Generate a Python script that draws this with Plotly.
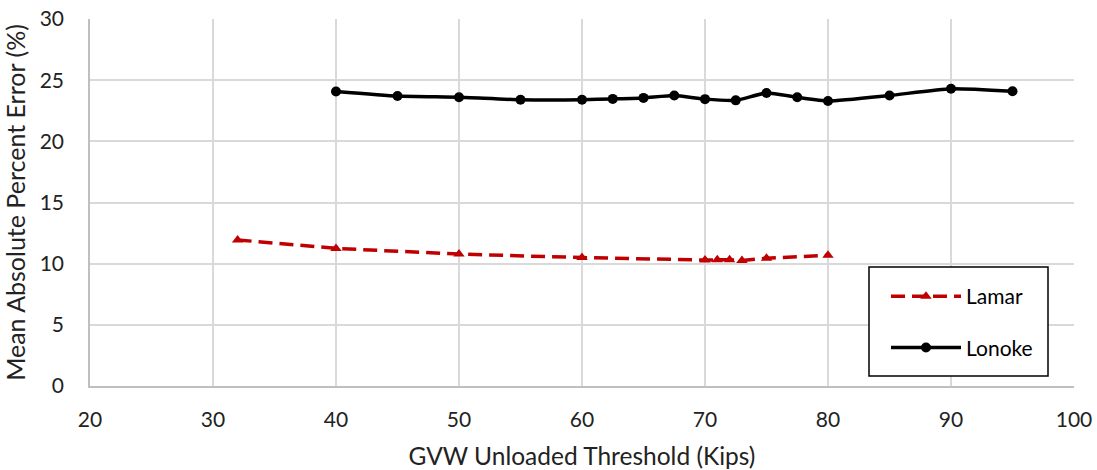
import plotly.graph_objects as go

lonoke_x = [40, 45, 50, 55, 60, 62.5, 65, 67.5, 70, 72.5, 75, 77.5, 80, 85, 90, 95]
lonoke_y = [24.08, 23.7, 23.6, 23.4, 23.4, 23.47, 23.55, 23.75, 23.45, 23.35, 23.95, 23.6, 23.3, 23.75, 24.3, 24.1]

lamar_x = [32, 40, 50, 60, 70, 71, 72, 73, 75, 80]
lamar_y = [11.94, 11.25, 10.78, 10.5, 10.3, 10.32, 10.33, 10.25, 10.45, 10.68]

x_ticks = [20, 30, 40, 50, 60, 70, 80, 90, 100]
y_ticks = [0, 5, 10, 15, 20, 25, 30]

FONT = "Lato"
TXT = "#222"

fig = go.Figure()
fig.add_trace(go.Scatter(
    x=lamar_x, y=lamar_y, name="Lamar", mode="lines+markers", legendgroup="a",
    line=dict(color="#C00000", width=3.5, dash="14px,7px"),
    marker=dict(symbol="triangle-up", size=10, color="#C00000"),
))
fig.add_trace(go.Scatter(
    x=lonoke_x, y=lonoke_y, name="Lonoke", mode="lines+markers", legendgroup="b",
    line=dict(color="black", width=3.5, shape="spline", smoothing=0.5),
    marker=dict(symbol="circle", size=10, color="black"),
))

W, H = 1097, 470
L, R, T, B = 90, 23, 19, 84
pw, ph = W - L - R, H - T - B

def px_x(p):
    return (p - L) / pw

def px_y(p):
    return (H - B - p) / ph

fig.add_shape(type="rect", xref="paper", yref="paper",
              x0=px_x(869), x1=px_x(1048), y0=px_y(376), y1=px_y(267),
              line=dict(color="black", width=1.5), fillcolor="white", layer="above")

fig.update_layout(
    width=W, height=H,
    margin=dict(l=L, r=R, t=T, b=B),
    paper_bgcolor="white", plot_bgcolor="white",
    font=dict(family=FONT, size=21, color=TXT),
    showlegend=True,
    legend=dict(
        x=px_x(886), y=px_y(276), xanchor="left", yanchor="top",
        borderwidth=0, bgcolor="rgba(0,0,0,0)",
        font=dict(family=FONT, size=21, color="black"),
        itemwidth=70, tracegroupgap=21, traceorder="grouped",
    ),
    xaxis=dict(
        range=[20, 100], tickvals=x_ticks, showgrid=True, gridcolor="#d9d9d9", gridwidth=1.5,
        showline=True, linecolor="#bfbfbf", linewidth=1.5, zeroline=False,
        ticks="", ticklabelstandoff=14, automargin=False,
        tickfont=dict(family=FONT, size=21, color=TXT),
        title=dict(text="GVW Unloaded Threshold (Kips)", standoff=22,
                   font=dict(family=FONT, size=24.5, color=TXT)),
    ),
    yaxis=dict(
        range=[0, 30], tickvals=y_ticks, showgrid=True, gridcolor="#d9d9d9", gridwidth=1.5,
        showline=True, linecolor="#bfbfbf", linewidth=1.5, zeroline=False,
        ticks="", ticklabelstandoff=20, automargin=False,
        tickfont=dict(family=FONT, size=21, color=TXT),
        title=dict(text="Mean Absolute Percent Error (%)", standoff=8,
                   font=dict(family=FONT, size=25, color=TXT)),
    ),
)

fig.write_html("out.html", config={"displayModeBar": False},
               post_script="document.body.style.margin='0px';")
